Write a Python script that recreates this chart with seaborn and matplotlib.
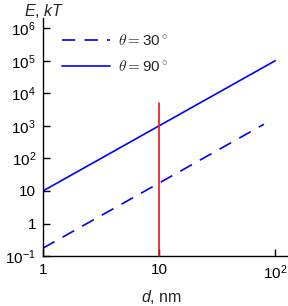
import numpy as np
import pandas as pd
import seaborn as sns
import matplotlib.pyplot as plt
from matplotlib.font_manager import FontProperties

# dane
d_90 = [1, 100]
E_90 = [10, 1e5]
d_30 = [1, 80]
E_30 = [0.175, 1120]
d_red = [10, 10]
E_red = [0.1, 5000]

y_ticks = [1e-1, 1, 10, 1e2, 1e3, 1e4, 1e5, 1e6]
y_labels = [r'10$^{-1}$', '1', '10', r'10$^2$', r'10$^3$', r'10$^4$', r'10$^5$', r'10$^6$']
x_ticks = [1, 10, 100]
x_labels = ['1', '10', r'10$^2$']

sns.set_style('ticks')
plt.rcParams['font.family'] = ['Liberation Sans', 'DejaVu Sans']
plt.rcParams['mathtext.fontset'] = 'custom'
plt.rcParams['mathtext.rm'] = 'Liberation Sans'
plt.rcParams['mathtext.it'] = 'Liberation Sans:italic'

fig = plt.figure(figsize=(2.88, 3.06), dpi=100)
ax = fig.add_axes([0.149, 0.163, 0.851, 0.778])

df30 = pd.DataFrame({'d': d_30, 'E': E_30})
df90 = pd.DataFrame({'d': d_90, 'E': E_90})
dfr = pd.DataFrame({'d': d_red, 'E': E_red})

sns.lineplot(data=df30, x='d', y='E', ax=ax, color='#0000ff', lw=1.2,
             label=r'$\theta=$30$^\circ$')
ax.lines[-1].set_dashes((8, 5.5))
sns.lineplot(data=df90, x='d', y='E', ax=ax, color='#0000ff', lw=1.2,
             label=r'$\theta=$90$^\circ$')
ax.plot(dfr['d'], dfr['E'], color='#e8141c', lw=1.2, zorder=5, clip_on=False)

ax.set_xscale('log')
ax.set_yscale('log')
ax.set_xlim(1, 10 ** 2.11)
ax.set_ylim(0.1, 10 ** 6.31)
ax.set_xticks(x_ticks)
ax.set_xticklabels(x_labels)
ax.set_yticks(y_ticks)
ax.set_yticklabels(y_labels)
ax.minorticks_off()
ax.tick_params(direction='in', length=5, width=1, labelsize=11, colors='black', pad=5)
sns.despine(ax=ax)
for s in ['left', 'bottom']:
    ax.spines[s].set_linewidth(1)
    ax.spines[s].set_color('black')
ax.set_xlabel('')
ax.set_ylabel('')

leg_font = FontProperties(family='Liberation Sans', size=11, math_fontfamily='cm')
ax.legend(loc='upper left', bbox_to_anchor=(0.02, 0.995), frameon=False, prop=leg_font,
          handlelength=3.2, labelspacing=0.75, handletextpad=0.5)

fig.text(0.155, 0.965, r'$E$, $kT$', fontsize=11.5, ha='center', va='center')
fig.text(0.56, 0.03, r'$d$, nm', fontsize=11.5, ha='center', va='center')

fig.savefig('out.png', dpi=100)
